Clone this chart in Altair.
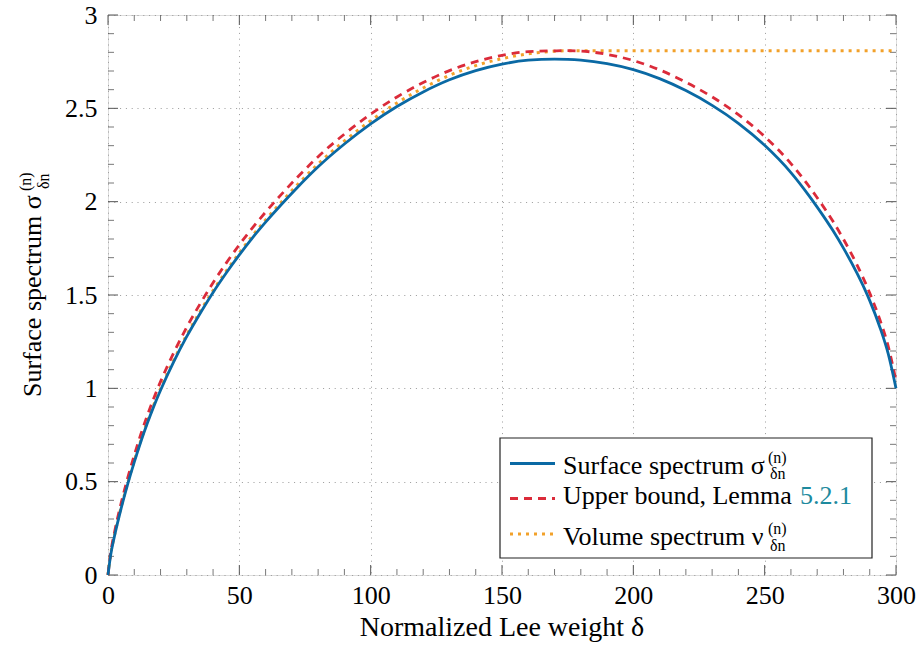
import altair as alt
import pandas as pd

# ---------------- data ----------------
x_grid = [0, 1, 2.5, 5, 7.5, 10, 12.5, 15, 17.5, 20, 25, 30, 35, 40, 45, 50, 55, 60,
          66, 72, 80, 90, 100, 110, 120, 130, 140, 150, 160, 170, 175, 180, 190, 200,
          210, 220, 230, 240, 250, 260, 267, 270, 276, 280, 285, 288, 290, 294, 297, 300]
surface = [0, 0.105, 0.21, 0.357, 0.487, 0.605, 0.714, 0.814, 0.906, 0.99, 1.142,
           1.278, 1.40, 1.514, 1.618, 1.715, 1.806, 1.89, 1.985, 2.075, 2.187, 2.309,
           2.417, 2.51, 2.588, 2.653, 2.702, 2.737, 2.758, 2.764, 2.7625, 2.758,
           2.739, 2.707, 2.659, 2.595, 2.516, 2.42, 2.302, 2.156, 2.03, 1.971, 1.845,
           1.751, 1.621, 1.534, 1.47, 1.322, 1.187, 1.0]
upper = [0, 0.117, 0.23, 0.385, 0.52, 0.642, 0.754, 0.856, 0.95, 1.036, 1.19, 1.328,
         1.451, 1.566, 1.671, 1.769, 1.86, 1.944, 2.039, 2.129, 2.241, 2.362, 2.469,
         2.561, 2.638, 2.702, 2.75, 2.784, 2.804, 2.808, 2.809, 2.807, 2.789, 2.756,
         2.706, 2.64, 2.561, 2.466, 2.349, 2.204, 2.08, 2.021, 1.895, 1.799, 1.666,
         1.576, 1.51, 1.362, 1.227, 1.04]

x_volume = [0, 1, 2.5, 5, 7.5, 10, 12.5, 15, 17.5, 20, 25, 30, 35, 40, 45, 50, 55, 60,
            66, 72, 80, 90, 100, 110, 120, 130, 140, 150, 160, 170, 176, 200, 250, 300]
volume = [0, 0.11, 0.215, 0.363, 0.493, 0.612, 0.721, 0.822, 0.914, 0.998, 1.15,
          1.287, 1.41, 1.524, 1.628, 1.726, 1.818, 1.902, 1.998, 2.089, 2.202, 2.325,
          2.434, 2.529, 2.609, 2.677, 2.729, 2.766, 2.792, 2.806, 2.809, 2.809,
          2.809, 2.809]

x_major = [0, 50, 100, 150, 200, 250, 300]
y_major = [0, 0.5, 1, 1.5, 2, 2.5, 3]
x_minor = [v for v in range(0, 301, 10) if v % 50 != 0]
y_minor = [round(i * 0.1, 2) for i in range(0, 31) if i % 5 != 0]

BLUE = "#0a69a4"
RED = "#db2b3a"
ORANGE = "#f2a12a"
TEAL = "#1d8a9e"
FONT = "Liberation Serif, DejaVu Serif, Times New Roman, serif"
FS = 26
SFS = 16
W, H = 788, 560

df_s = pd.DataFrame({"x": x_grid, "y": surface})
df_u = pd.DataFrame({"x": x_grid, "y": upper})
df_v = pd.DataFrame({"x": x_volume, "y": volume})

xs = alt.Scale(domain=[0, 300], nice=False, zero=False)
ys = alt.Scale(domain=[0, 3], nice=False, zero=False)

x_axis = alt.Axis(values=x_major, grid=True, gridDash=[1, 4.8], gridColor="#9a9a9a",
                  gridWidth=1, ticks=False, domain=False, labelFont=FONT,
                  labelFontSize=FS, labelColor="black", labelPadding=7, title=None,
                  format="d", labelFlush=False)
y_axis = alt.Axis(values=y_major, grid=True, gridDash=[1, 4.8], gridColor="#9a9a9a",
                  gridWidth=1, ticks=False, domain=False, labelFont=FONT,
                  labelFontSize=FS, labelColor="black", labelPadding=11, title=None,
                  format="~g", labelFlush=False)

base_axes = alt.Chart(df_s).mark_line(opacity=0).encode(
    x=alt.X("x:Q", scale=xs, axis=x_axis),
    y=alt.Y("y:Q", scale=ys, axis=y_axis),
)

DASH = [8, 6]
DOT = [3, 5]

line_s = alt.Chart(df_s).mark_line(color=BLUE, strokeWidth=2.8, interpolate="monotone").encode(
    x=alt.X("x:Q", scale=xs), y=alt.Y("y:Q", scale=ys))
line_u = alt.Chart(df_u).mark_line(color=RED, strokeWidth=2.8, strokeDash=DASH,
                                   interpolate="monotone").encode(
    x=alt.X("x:Q", scale=xs), y=alt.Y("y:Q", scale=ys))
line_v = alt.Chart(df_v).mark_line(color=ORANGE, strokeWidth=3, strokeDash=DOT,
                                   interpolate="monotone").encode(
    x=alt.X("x:Q", scale=xs), y=alt.Y("y:Q", scale=ys))

# ticks (inward, on all four sides)
dxm = pd.DataFrame({"v": x_major})
dym = pd.DataFrame({"v": y_major})
dxn = pd.DataFrame({"v": x_minor})
dyn = pd.DataFrame({"v": y_minor})
TC = "#555555"


def xticks(df, length, width):
    b = alt.Chart(df).mark_rule(color=TC, strokeWidth=width).encode(
        x=alt.X("v:Q", scale=xs), y=alt.value(H), y2=alt.value(H - length))
    t = alt.Chart(df).mark_rule(color=TC, strokeWidth=width).encode(
        x=alt.X("v:Q", scale=xs), y=alt.value(0), y2=alt.value(length))
    return [b, t]


def yticks(df, length, width):
    l = alt.Chart(df).mark_rule(color=TC, strokeWidth=width).encode(
        y=alt.Y("v:Q", scale=ys), x=alt.value(0), x2=alt.value(length))
    r = alt.Chart(df).mark_rule(color=TC, strokeWidth=width).encode(
        y=alt.Y("v:Q", scale=ys), x=alt.value(W), x2=alt.value(W - length))
    return [l, r]


ticks = xticks(dxm, 10, 1) + yticks(dym, 10, 1) + xticks(dxn, 6, 0.8) + yticks(dyn, 6, 0.8)

one = pd.DataFrame({"k": [0]})


def txt(text, x, y, size=FS, color="black", align="left", angle=0):
    kw = dict(text=text, font=FONT, fontSize=size, color=color, align=align,
              baseline="alphabetic")
    if angle:
        kw["angle"] = angle
    return alt.Chart(one).mark_text(**kw).encode(x=alt.value(x), y=alt.value(y))


# legend box
leg_box = alt.Chart(one).mark_rect(fill="white", stroke="#222222", strokeWidth=1.2).encode(
    x=alt.value(392), x2=alt.value(764), y=alt.value(423), y2=alt.value(543))
leg_l1 = alt.Chart(one).mark_rule(color=BLUE, strokeWidth=2.8).encode(
    x=alt.value(402), x2=alt.value(447), y=alt.value(448.5))
leg_l2 = alt.Chart(one).mark_rule(color=RED, strokeWidth=2.8, strokeDash=DASH).encode(
    x=alt.value(402), x2=alt.value(447), y=alt.value(483.5))
leg_l3 = alt.Chart(one).mark_rule(color=ORANGE, strokeWidth=3, strokeDash=DOT).encode(
    x=alt.value(402), x2=alt.value(447), y=alt.value(519))

legend_parts = [
    leg_box, leg_l1, leg_l2, leg_l3,
    txt("Surface spectrum σ", 455, 458.5),
    txt("(n)", 660, 448, SFS),
    txt("δn", 662, 464, SFS),
    txt("Upper bound, Lemma", 455, 489),
    txt("5.2.1", 692, 489, color=TEAL),
    txt("Volume spectrum ν", 455, 529.5),
    txt("(n)", 660, 519, SFS),
    txt("δn", 662, 536, SFS),
]

# axis titles
titles = [
    txt("Normalized Lee weight δ", W / 2, 621, size=28, align="center"),
    txt("Surface spectrum σ", -67, 382, angle=270),
    txt("(n)", -77, 176, SFS, angle=270),
    txt("δn", -59, 174, SFS, angle=270),
]

chart = alt.layer(
    base_axes, *ticks, line_v, line_u, line_s, *legend_parts, *titles
).properties(
    width=W, height=H,
    autosize=alt.AutoSizeParams(type="none"),
    padding={"left": 108, "top": 15, "right": 21, "bottom": 71},
).configure_view(
    stroke="#333333", strokeWidth=1.2
).configure(background="white")

chart.save("out.html", embed_options={"renderer": "svg", "actions": False})
